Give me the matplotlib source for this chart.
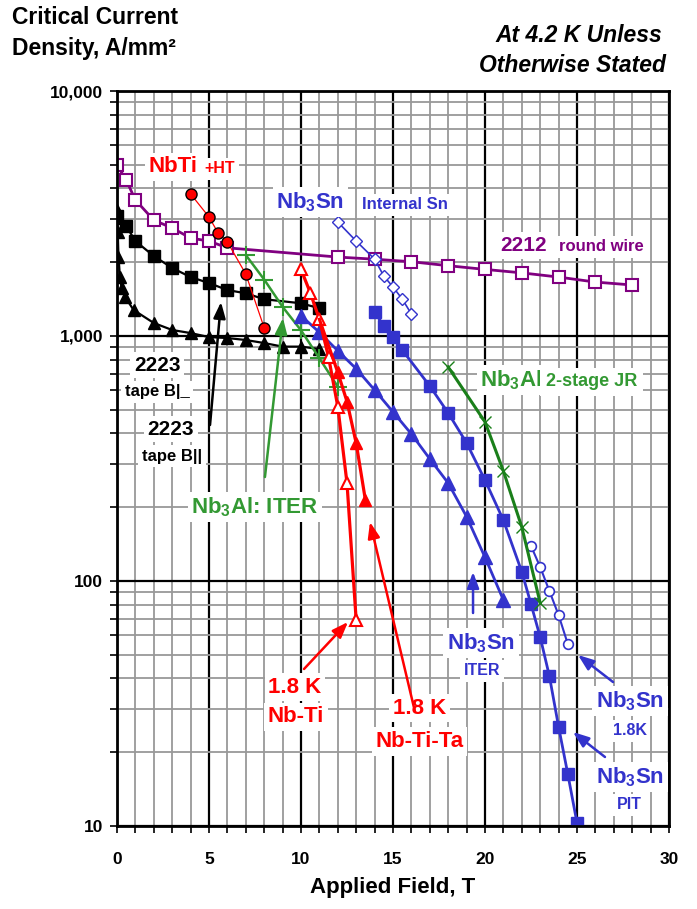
import matplotlib
matplotlib.use('Agg')
import matplotlib.pyplot as plt
from matplotlib.ticker import FixedLocator, NullFormatter, FixedFormatter, LogLocator

plt.rcParams['font.family'] = ['Liberation Sans', 'DejaVu Sans']
plt.rcParams['font.weight'] = 'bold'
plt.rcParams['mathtext.fontset'] = 'custom'
plt.rcParams['mathtext.rm'] = 'Liberation Sans:bold'
plt.rcParams['mathtext.it'] = 'Liberation Sans:bold:italic'
plt.rcParams['mathtext.bf'] = 'Liberation Sans:bold'

# ---------------- data ----------------
b2212_B = [0, 0.5, 1, 2, 3, 4, 5, 6, 12, 14, 16, 18, 20, 22, 24, 26, 28]
b2212_J = [4990, 4330, 3590, 2970, 2760, 2510, 2440, 2290, 2100, 2058, 2010, 1936, 1870, 1810, 1740, 1660, 1615]

nbti_ht_B = [4, 5, 5.5, 6, 7, 8]
nbti_ht_J = [3800, 3060, 2630, 2420, 1790, 1080]

b2223_par_B = [0, 0.5, 1, 2, 3, 4, 5, 6, 7, 8, 10, 11]
b2223_par_J = [3100, 2810, 2440, 2120, 1895, 1740, 1645, 1540, 1494, 1413, 1360, 1298]

b2223_perp_B = [0, 0.02, 0.04, 0.08, 0.16, 0.25, 0.45, 0.9, 2, 3, 4, 5, 6, 7, 8, 9, 10, 11]
b2223_perp_J = [3270, 3030, 2660, 2110, 1740, 1570, 1440, 1277, 1130, 1058, 1028, 990, 981, 963, 936, 905, 905, 885]

nb3al_iter_B = [7, 8, 9, 10, 11, 12]
nb3al_iter_J = [2140, 1700, 1315, 1055, 811, 621]

nb3sn_int_B = [12, 13, 14, 14.5, 15, 15.5, 16]
nb3sn_int_J = [2920, 2440, 2060, 1757, 1585, 1416, 1230]

nb3sn_pit_B = [14, 14.5, 15, 15.5, 17, 18, 19, 20, 21, 22, 22.5, 23, 23.5, 24, 24.5, 25]
nb3sn_pit_J = [1253, 1099, 990, 877, 625, 485, 366, 258, 177, 109, 80.5, 59, 40.9, 25.4, 16.3, 10.3]

nb3sn_18_B = [22.5, 23, 23.5, 24, 24.5]
nb3sn_18_J = [139, 114, 91, 72.6, 55.3]

nb3al_jr_B = [18, 20, 21, 22, 23]
nb3al_jr_J = [747, 446, 281, 166, 81.3]

nb3sn_iter_B = [10, 11, 12, 13, 14, 15, 16, 17, 18, 19, 20, 21]
nb3sn_iter_J = [1210, 1035, 870, 735, 602, 490, 398, 315, 251, 183, 125, 83.6]

nbti18_B = [10, 10.5, 11, 11.5, 12, 12.5, 13]
nbti18_J = [1870, 1505, 1170, 818, 515, 251, 69]

nbtita18_B = [11, 12, 12.5, 13, 13.5]
nbtita18_J = [1170, 710, 540, 365, 214]

x_ticks = [0, 5, 10, 15, 20, 25, 30]
y_ticks = [10, 100, 1000, 10000]
y_tick_labels = ['10', '100', '1,000', '10,000']

# ---------------- colours ----------------
PURPLE = '#800080'
RED = '#ff0000'
BLUE = '#3333cc'
GREEN = '#339933'
DGREEN = '#1a7f1a'

fig = plt.figure(figsize=(6.97, 9.09), dpi=100)
ax = fig.add_axes([117/697, 1-826/909, 552/697, 735/909])
ax.set_yscale('log')
ax.set_xlim(0, 30)
ax.set_ylim(10, 10000)

# grid
ax.set_axisbelow(True)
ax.xaxis.set_major_locator(FixedLocator(x_ticks))
ax.xaxis.set_minor_locator(FixedLocator(list(range(0, 31))))
ax.yaxis.set_major_locator(FixedLocator(y_ticks))
ax.yaxis.set_minor_locator(LogLocator(base=10, subs=range(2, 10)))
ax.yaxis.set_major_formatter(FixedFormatter(y_tick_labels))
ax.yaxis.set_minor_formatter(NullFormatter())
ax.grid(which='minor', color='#999999', lw=1.3, zorder=0)
ax.grid(which='major', color='black', lw=1.6, zorder=0.5)
ax.tick_params(which='both', direction='out', length=5, width=1.2, color='black')
ax.tick_params(axis='x', which='both', pad=14, labelsize=12.5)
ax.tick_params(axis='y', which='both', pad=5, labelsize=12.5)
for lab in ax.get_xticklabels() + ax.get_yticklabels():
    lab.set_fontweight('bold')
for s in ax.spines.values():
    s.set_linewidth(2)
    s.set_color('black')
    s.set_zorder(5)

# ---------------- series ----------------
ax.plot(b2212_B, b2212_J, color=PURPLE, lw=2.0, marker='s', ms=8.5, mfc='white',
        mec=PURPLE, mew=1.5, zorder=3)
ax.plot(nbti_ht_B, nbti_ht_J, color=RED, lw=0.9, marker='o', ms=8, mfc=RED,
        mec='black', mew=1.0, zorder=4)
ax.plot(b2223_par_B, b2223_par_J, color='black', lw=1.6, marker='s', ms=8.5,
        mfc='black', mec='black', zorder=3)
ax.plot(b2223_perp_B, b2223_perp_J, color='black', lw=1.6, marker='^', ms=8.5,
        mfc='black', mec='black', zorder=3)
ax.plot(nb3al_iter_B, nb3al_iter_J, color=GREEN, lw=1.8, marker='+', ms=13,
        mew=1.5, zorder=3)
ax.plot(nb3sn_int_B, nb3sn_int_J, color=BLUE, lw=1.2, marker='D', ms=6, mfc='white',
        mec=BLUE, mew=1.0, zorder=3)
ax.plot(nb3sn_pit_B, nb3sn_pit_J, color=BLUE, lw=2.0, marker='s', ms=8.5, mfc=BLUE,
        mec=BLUE, zorder=3)
ax.plot(nb3sn_18_B, nb3sn_18_J, color=BLUE, lw=1.5, marker='o', ms=7, mfc='white',
        mec=BLUE, mew=1.2, zorder=3)
ax.plot(nb3al_jr_B, nb3al_jr_J, color=DGREEN, lw=2.2, marker='x', ms=8, mew=1.0,
        zorder=3)
ax.plot(nb3sn_iter_B, nb3sn_iter_J, color=BLUE, lw=2.0, marker='^', ms=9.5, mfc=BLUE,
        mec=BLUE, zorder=3)
ax.plot(nbti18_B, nbti18_J, color=RED, lw=2.3, marker='^', ms=9, mfc='white',
        mec=RED, mew=1.5, zorder=3.5)
ax.plot(nbtita18_B, nbtita18_J, color=RED, lw=2.3, marker='^', ms=9, mfc=RED,
        mec=RED, markevery=[1, 2, 3, 4], zorder=3.5)

# ---------------- labels ----------------
def lab(x, y, s, color, size, pad=2.5):
    ax.text(x, y, s, transform=ax.transAxes, color=color, fontsize=size,
            fontweight='bold', ha='center', va='center', zorder=6,
            bbox=dict(fc='white', ec='none', pad=pad))

lab(0.1014, 0.8966, 'NbTi', RED, 16)
lab(0.1866, 0.8939, '+HT', RED, 11.5)
lab(0.3500, 0.8490, 'Nb$_3$Sn', BLUE, 16)
lab(0.5217, 0.8450, 'Internal Sn', BLUE, 12)
lab(0.7373, 0.7898, '2212', PURPLE, 15)
lab(0.8768, 0.7878, 'round wire', PURPLE, 12)
lab(0.7138, 0.6068, 'Nb$_3$Al', GREEN, 16)
lab(0.8600, 0.6045, '2-stage JR', GREEN, 13, pad=4)
lab(0.0725, 0.6272, '2223', 'black', 15)
lab(0.0725, 0.5905, 'tape B|_', 'black', 12)
lab(0.0978, 0.5401, '2223', 'black', 15)
lab(0.0996, 0.5034, 'tape B||', 'black', 12)
lab(0.2500, 0.4340, 'Nb$_3$Al: ITER', GREEN, 16)
lab(0.3225, 0.1891, '1.8 K', RED, 16)
lab(0.3243, 0.1483, 'Nb-Ti', RED, 16)
lab(0.5480, 0.1600, '1.8 K', RED, 16)
lab(0.5480, 0.1150, 'Nb-Ti-Ta', RED, 16)
lab(0.6594, 0.2490, 'Nb$_3$Sn', BLUE, 16)
lab(0.6612, 0.2109, 'ITER', BLUE, 11.5)
lab(0.9293, 0.1700, 'Nb$_3$Sn', BLUE, 16)
lab(0.9293, 0.1293, '1.8K', BLUE, 11.5)
lab(0.9293, 0.0667, 'Nb$_3$Sn', BLUE, 16)
lab(0.9275, 0.0286, 'PIT', BLUE, 11.5)

# ---------------- arrows ----------------
def arrow(x0, y0, x1, y1, color):
    ax.annotate('', xy=(x1, y1), xytext=(x0, y0), xycoords='axes fraction',
                textcoords='axes fraction', zorder=6,
                arrowprops=dict(arrowstyle='-|>,head_length=0.8,head_width=0.3',
                                mutation_scale=12, color=color, lw=1.8,
                                shrinkA=0, shrinkB=0))

arrow(0.1685, 0.5456, 0.1884, 0.7129, 'black')
arrow(0.2680, 0.4748, 0.3007, 0.6912, GREEN)
arrow(0.3388, 0.2136, 0.4185, 0.2776, RED)
arrow(0.5399, 0.1551, 0.4583, 0.4136, RED)
arrow(0.6450, 0.2898, 0.6450, 0.3456, BLUE)
arrow(0.8986, 0.1959, 0.8351, 0.2327, BLUE)
arrow(0.8840, 0.0939, 0.8260, 0.1279, BLUE)

# ---------------- titles ----------------
fig.text(12/697, 1-18/909, 'Critical Current', fontsize=16.5, fontweight='bold',
         ha='left', va='center')
fig.text(12/697, 1-48/909, 'Density, A/mm²', fontsize=16.5, fontweight='bold',
         ha='left', va='center')
fig.text(662/697, 1-35/909, 'At 4.2 K Unless', fontsize=16.5, fontweight='bold',
         style='italic', ha='right', va='center')
fig.text(666/697, 1-66/909, 'Otherwise Stated', fontsize=16.5, fontweight='bold',
         style='italic', ha='right', va='center')
fig.text(393/697, 1-887/909, 'Applied Field, T', fontsize=16, fontweight='bold',
         ha='center', va='center')

fig.savefig('out.png', dpi=100)
